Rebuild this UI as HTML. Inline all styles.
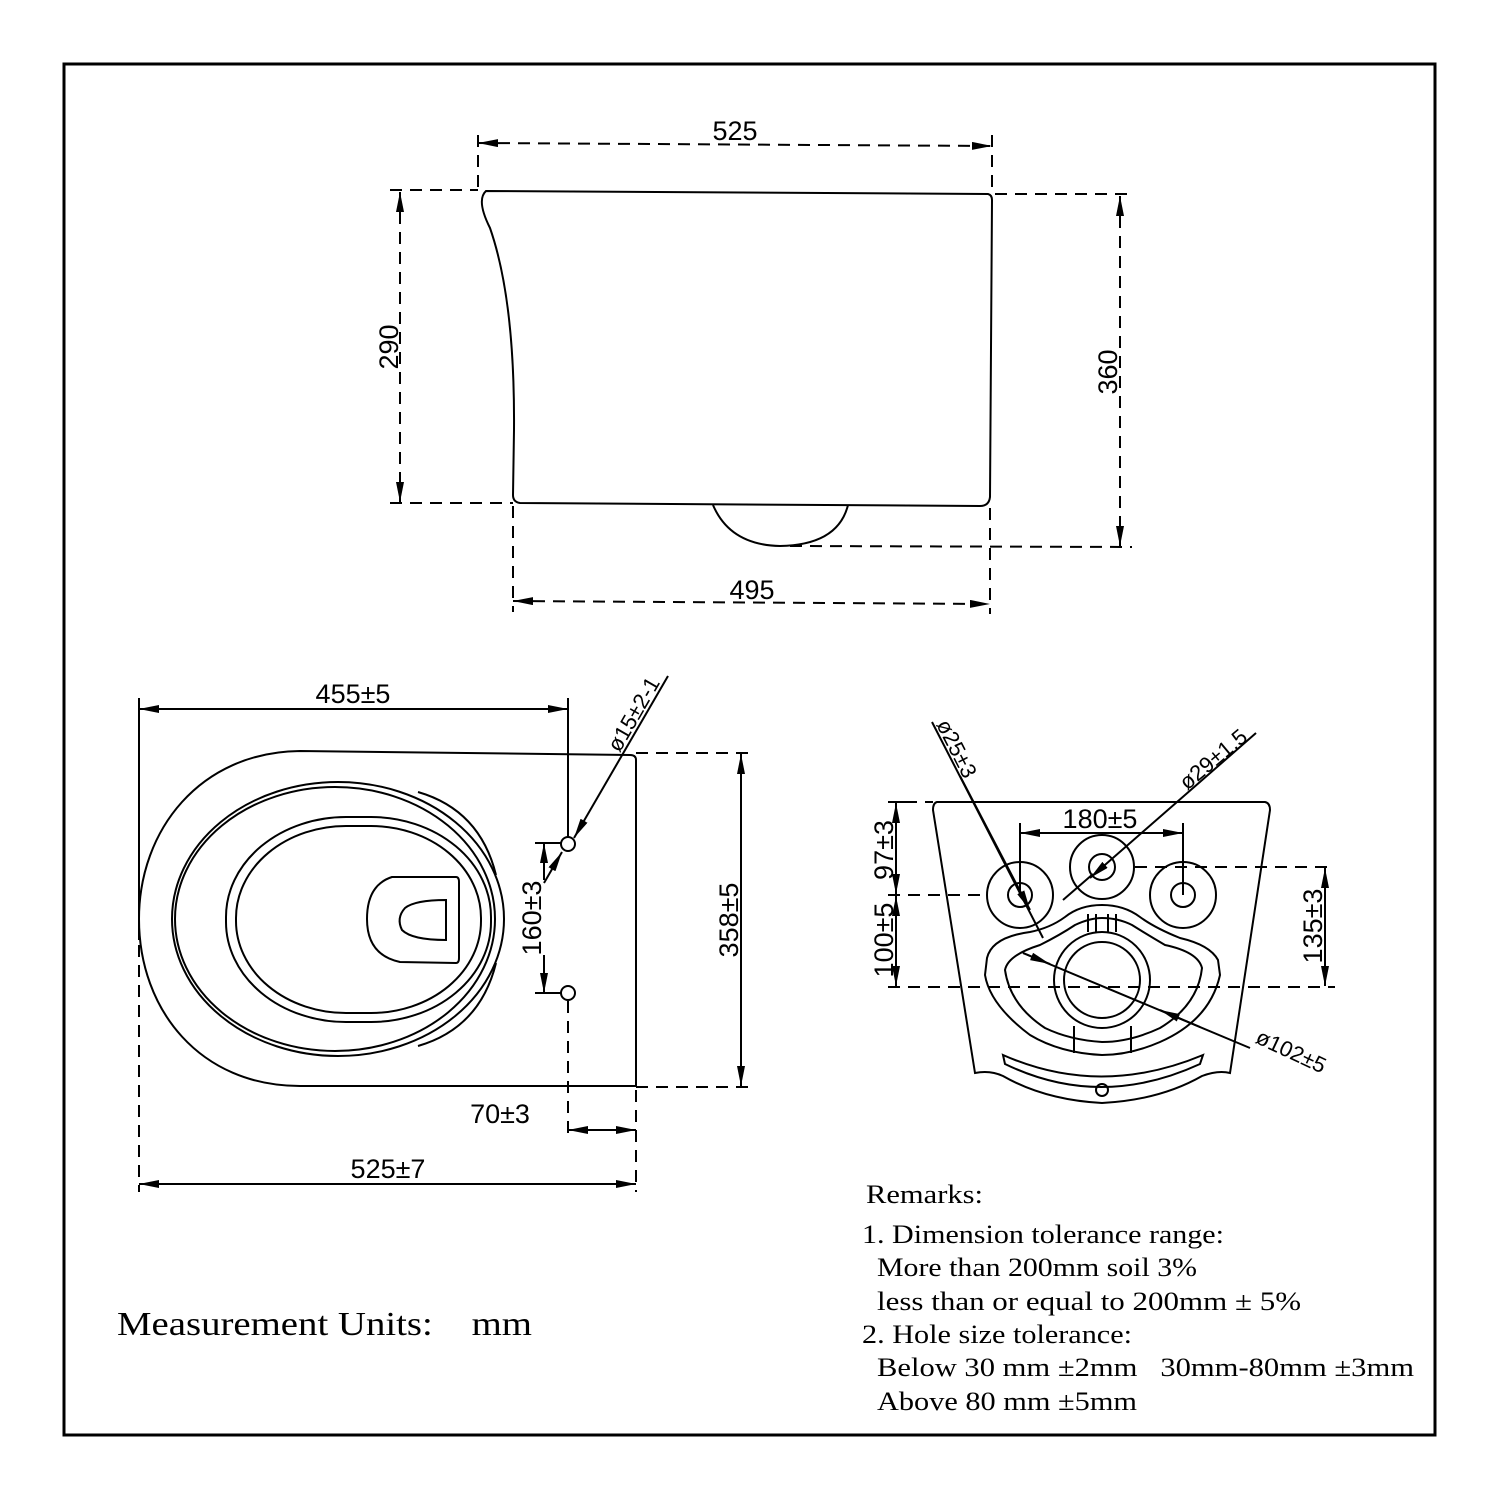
<!DOCTYPE html>
<html><head><meta charset="utf-8"><style>html,body{margin:0;padding:0;background:#fff}svg{display:block}</style></head><body>
<svg width="1500" height="1500" viewBox="0 0 1500 1500" xmlns="http://www.w3.org/2000/svg">
<defs>
<marker id="a" viewBox="0 0 20 8" refX="20" refY="4" markerWidth="20" markerHeight="8" markerUnits="userSpaceOnUse" orient="auto-start-reverse"><path d="M0,0 L20,4 L0,8 Z" fill="#000"/></marker>
</defs>
<rect x="64" y="64" width="1371" height="1371" fill="#fff" stroke="#000" stroke-width="3"/>
<g fill="none" stroke="#000" stroke-width="2">
<!-- SIDE VIEW -->
<path d="M486,191 L988,194 Q992,195 992,200 L990,497 Q989,506 980,506 L520,503 Q513,502 513,495 L514,430 Q515,300 490,228 Q476,200 486,191 Z"/>
<path d="M713,505 Q730,545 780,546 Q838,545 848,505"/>
<g stroke-dasharray="12,8">
<line x1="478" y1="135" x2="478" y2="190"/><line x1="992" y1="135" x2="992" y2="190"/>
<line x1="478" y1="143" x2="992" y2="146" marker-start="url(#a)" marker-end="url(#a)"/>
<line x1="390" y1="190" x2="478" y2="190"/><line x1="390" y1="503" x2="513" y2="503"/>
<line x1="400" y1="192" x2="400" y2="502" marker-start="url(#a)" marker-end="url(#a)"/>
<line x1="995" y1="194" x2="1132" y2="194"/><line x1="790" y1="546" x2="1132" y2="547"/>
<line x1="1120" y1="196" x2="1120" y2="546" marker-start="url(#a)" marker-end="url(#a)"/>
<line x1="513" y1="506" x2="513" y2="612"/><line x1="990" y1="508" x2="990" y2="614"/>
<line x1="513" y1="601" x2="990" y2="604" marker-start="url(#a)" marker-end="url(#a)"/>
</g>
<!-- PLAN VIEW -->
<path d="M630,755 L300,751 C200,752 139,830 139,919 C139,1010 200,1086 300,1086 L636,1086 L636,760 Q636,755 630,755 Z"/>
<ellipse cx="338" cy="919" rx="166" ry="137"/>
<ellipse cx="335" cy="919" rx="160" ry="132"/>
<path d="M418,792 Q480,810 496,875"/><path d="M418,1046 Q480,1028 496,963"/>
<rect x="226" y="817" width="265" height="205" rx="120" ry="100"/>
<rect x="236" y="826" width="245" height="187" rx="110" ry="92"/>
<path d="M456,877 L392,877 Q367,885 367,919 Q367,955 400,962 L456,963 Q459,963 459,958 L459,882 Q459,877 456,877 Z"/>
<path d="M446,900 Q415,900 405,908 Q396,918 402,930 Q412,940 446,940 Z"/>
<circle cx="568" cy="844" r="7"/><circle cx="568" cy="993" r="7"/>
<line x1="139" y1="698" x2="139" y2="940"/>
<line x1="568" y1="698" x2="568" y2="837"/>
<line x1="139" y1="709" x2="568" y2="709" marker-start="url(#a)" marker-end="url(#a)"/>
<line x1="535" y1="843" x2="561" y2="843"/><line x1="535" y1="993" x2="561" y2="993"/>
<line x1="544" y1="843" x2="544" y2="880" marker-start="url(#a)"/>
<line x1="544" y1="955" x2="544" y2="993" marker-end="url(#a)"/>
<line x1="668" y1="676" x2="574" y2="838" marker-end="url(#a)"/>
<line x1="544" y1="883" x2="562" y2="852" marker-end="url(#a)"/>
<line x1="568" y1="1130" x2="636" y2="1130" marker-start="url(#a)" marker-end="url(#a)"/>
<line x1="139" y1="1184" x2="636" y2="1184" marker-start="url(#a)" marker-end="url(#a)"/>
<line x1="741" y1="754" x2="741" y2="1086" marker-start="url(#a)" marker-end="url(#a)"/>
<g stroke-dasharray="12,8">
<line x1="139" y1="945" x2="139" y2="1192"/>
<line x1="568" y1="1001" x2="568" y2="1140"/>
<line x1="636" y1="1090" x2="636" y2="1192"/>
<line x1="636" y1="753" x2="750" y2="753"/><line x1="636" y1="1087" x2="750" y2="1087"/>
</g>
<!-- REAR VIEW -->
<path d="M937,802 L1265,802 Q1270,803 1270,810 L1230,1073 Q1218,1070 1202,1076 Q1160,1100 1102,1103 Q1045,1100 1003,1076 Q990,1070 975,1073 L933,810 Q933,803 937,802 Z"/>
<circle cx="1020" cy="895" r="33"/><circle cx="1020" cy="895" r="12"/>
<circle cx="1102" cy="867" r="32"/><circle cx="1102" cy="867" r="13"/>
<circle cx="1183" cy="895" r="33"/><circle cx="1183" cy="895" r="12"/>
<path d="M987,958 Q992,937 1030,932 Q1050,928 1065,917 Q1080,905 1102,905 Q1124,905 1140,917 Q1155,928 1180,938 Q1210,945 1218,960 L1220,975 Q1210,1020 1160,1042 Q1130,1055 1102,1055 Q1060,1053 1030,1035 Q990,1005 985,975 Z"/>
<path d="M1005,970 Q1008,955 1040,945 Q1060,935 1075,925 Q1090,918 1102,918 Q1118,918 1132,925 Q1148,935 1165,945 Q1198,952 1202,968 Q1198,1005 1160,1028 Q1130,1042 1102,1042 Q1070,1040 1045,1028 Q1010,1005 1005,970 Z"/>
<circle cx="1102" cy="980" r="48"/><circle cx="1102" cy="980" r="38"/>
<path d="M1088,914 L1088,932 M1096,914 L1096,932 M1108,914 L1108,932 M1116,914 L1116,932"/>
<path d="M1074,1026 L1074,1053 M1131,1026 L1131,1053"/>
<path d="M1003,1055 L1005,1064 Q1100,1110 1200,1064 L1203,1055 Q1100,1098 1003,1055 Z"/>
<circle cx="1102" cy="1090" r="6"/>
<line x1="1020" y1="823" x2="1020" y2="895"/><line x1="1183" y1="823" x2="1183" y2="895"/>
<line x1="1020" y1="833" x2="1183" y2="833" marker-start="url(#a)" marker-end="url(#a)"/>
<line x1="888" y1="802" x2="905" y2="802"/>
<line x1="896" y1="803" x2="896" y2="894" marker-start="url(#a)" marker-end="url(#a)"/>
<line x1="896" y1="896" x2="896" y2="986" marker-start="url(#a)" marker-end="url(#a)"/>
<line x1="1325" y1="868" x2="1325" y2="986" marker-start="url(#a)" marker-end="url(#a)"/>
<line x1="932" y1="722" x2="1043" y2="938"/>
<line x1="960" y1="776" x2="1030" y2="910" marker-end="url(#a)"/>
<line x1="1256" y1="733" x2="1090" y2="878" marker-end="url(#a)"/>
<line x1="1063" y1="900" x2="1093" y2="874"/>
<line x1="1023" y1="953" x2="1250" y2="1048"/>
<line x1="1023" y1="953" x2="1050" y2="964" marker-end="url(#a)"/>
<line x1="1200" y1="1027" x2="1160" y2="1010" marker-end="url(#a)"/>
<g stroke-dasharray="12,8">
<line x1="905" y1="802" x2="933" y2="802"/>
<line x1="888" y1="895" x2="988" y2="895"/>
<line x1="1135" y1="867" x2="1335" y2="867"/>
<line x1="888" y1="987" x2="1335" y2="987"/>
</g>
</g>
<g font-family="'Liberation Sans',sans-serif" font-size="27" fill="#000">
<text x="735" y="140" text-anchor="middle">525</text>
<text x="752" y="599" text-anchor="middle">495</text>
<text transform="translate(398,347) rotate(-90)" text-anchor="middle">290</text>
<text transform="translate(1117,372) rotate(-90)" text-anchor="middle">360</text>
<text x="353" y="703" text-anchor="middle">455±5</text>
<text transform="translate(541,918) rotate(-90)" text-anchor="middle">160±3</text>
<text transform="translate(738,920) rotate(-90)" text-anchor="middle">358±5</text>
<text x="500" y="1123" text-anchor="middle">70±3</text>
<text x="388" y="1178" text-anchor="middle">525±7</text>
<text x="1100" y="828" text-anchor="middle">180±5</text>
<text transform="translate(893,850) rotate(-90)" text-anchor="middle">97±3</text>
<text transform="translate(893,940) rotate(-90)" text-anchor="middle">100±5</text>
<text transform="translate(1322,926) rotate(-90)" text-anchor="middle">135±3</text>
<text transform="translate(640,718) rotate(-60)" font-size="22" text-anchor="middle">ø15±2-1</text>
<text transform="translate(950,752) rotate(63)" font-size="22" text-anchor="middle">ø25±3</text>
<text transform="translate(1218,765) rotate(-40)" font-size="22" text-anchor="middle">ø29±1.5</text>
<text transform="translate(1288,1058) rotate(25)" font-size="22" text-anchor="middle">ø102±5</text>
</g>
<g font-family="'Liberation Serif',serif" fill="#000" font-size="26">
<text x="866" y="1203" textLength="117" lengthAdjust="spacingAndGlyphs">Remarks:</text>
<text x="862" y="1243" textLength="362" lengthAdjust="spacingAndGlyphs">1. Dimension tolerance range:</text>
<text x="877" y="1276" textLength="320" lengthAdjust="spacingAndGlyphs">More than 200mm soil 3%</text>
<text x="877" y="1310" textLength="424" lengthAdjust="spacingAndGlyphs">less than or equal to 200mm ± 5%</text>
<text x="862" y="1343" textLength="270" lengthAdjust="spacingAndGlyphs">2. Hole size tolerance:</text>
<text x="877" y="1376" textLength="537" lengthAdjust="spacingAndGlyphs" xml:space="preserve">Below 30 mm ±2mm   30mm-80mm ±3mm</text>
<text x="877" y="1410" textLength="260" lengthAdjust="spacingAndGlyphs">Above 80 mm ±5mm</text>
<text x="117" y="1335" font-size="34" textLength="415" lengthAdjust="spacingAndGlyphs" xml:space="preserve">Measurement Units:    mm</text>
</g>
</svg>
</body></html>
